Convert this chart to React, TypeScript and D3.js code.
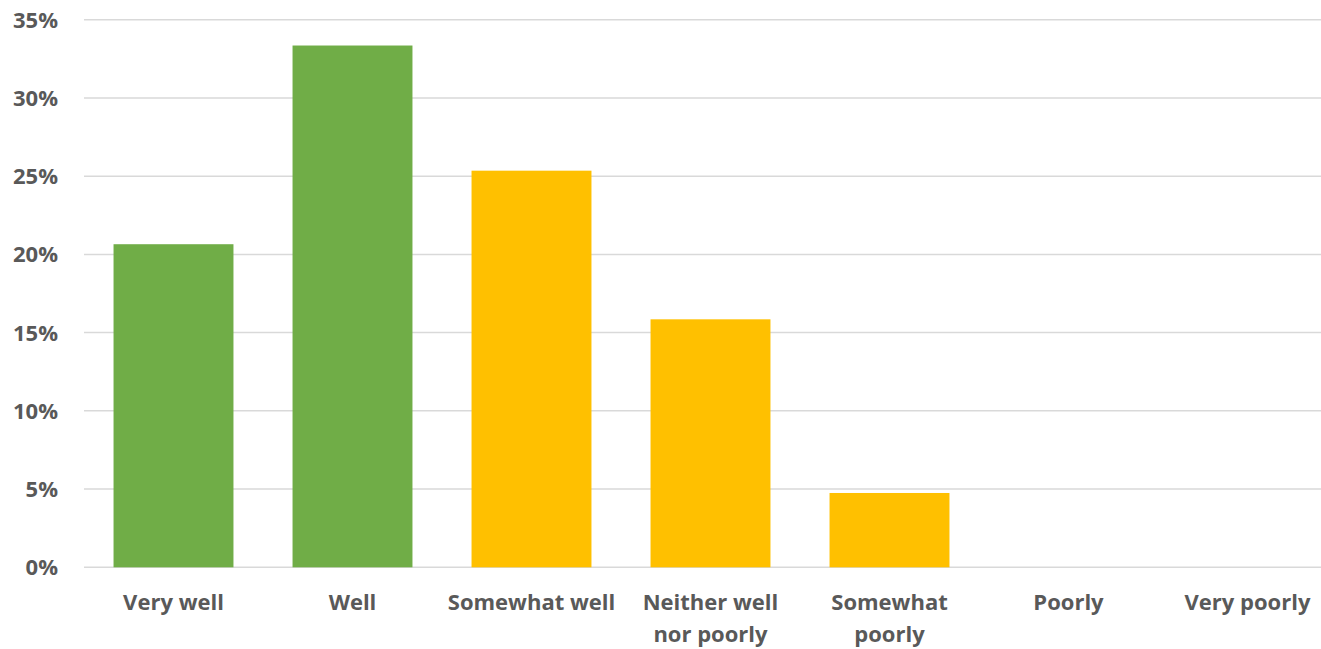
import React from "react";
import * as d3 from "d3";

const categories = ["Very well", "Well", "Somewhat well", "Neither well nor poorly", "Somewhat poorly", "Poorly", "Very poorly"];
const labelLines = [["Very well"], ["Well"], ["Somewhat well"], ["Neither well", "nor poorly"], ["Somewhat", "poorly"], ["Poorly"], ["Very poorly"]];
const values = [0.2065, 0.3335, 0.2535, 0.1585, 0.0475, 0, 0];
const barColors = ["#70AD47", "#70AD47", "#FFC000", "#FFC000", "#FFC000", "#FFC000", "#FFC000"];
const yTicks = [0, 0.05, 0.1, 0.15, 0.2, 0.25, 0.3, 0.35];

export default function App() {
  const W = 1321, H = 649;
  const x = d3.scaleBand<string>().domain(categories).range([84, 1337]).paddingInner(0.33).paddingOuter(0.165);
  const y = d3.scaleLinear().domain([0, 0.35]).range([567.3, 19.7]);
  const fmt = d3.format(".0%");
  const font = "'Open Sans', sans-serif";
  return (
    <svg width={W} height={H} style={{ position: "absolute", left: 0, top: 0 }} fontFamily={font}>
      <rect width={W} height={H} fill="#fff" />
      {yTicks.map((t) => (
        <g key={t}>
          <line x1={84} x2={W} y1={y(t)} y2={y(t)} stroke="#D9D9D9" strokeWidth={1.5} />
          <text x={58} y={y(t)} dy="0.36em" textAnchor="end" fontSize={22} fontWeight={700} fill="#595959">{fmt(t)}</text>
        </g>
      ))}
      {categories.map((c, i) => (
        <rect key={c} x={x(c)} y={y(values[i])} width={x.bandwidth()} height={y(0) - y(values[i])} fill={barColors[i]} />
      ))}
      {categories.map((c, i) => (
        <text key={c} x={(x(c) as number) + x.bandwidth() / 2} y={610} textAnchor="middle" fontSize={22} fontWeight={700} fill="#595959">
          {labelLines[i].map((l, j) => (
            <tspan key={j} x={(x(c) as number) + x.bandwidth() / 2} dy={j === 0 ? 0 : 32}>{l}</tspan>
          ))}
        </text>
      ))}
    </svg>
  );
}
